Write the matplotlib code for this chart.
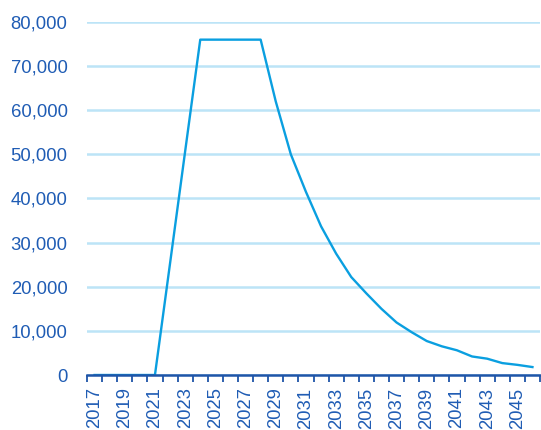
import numpy as np
import matplotlib
matplotlib.use('Agg')
from matplotlib import pyplot as plt

years = list(range(2017, 2047))
values = [0, 0, 0, 0, 0, 25300, 50700, 76000, 76000, 76000, 76000, 76000,
          62000, 50000, 41500, 33700, 27500, 22200, 18500, 15000, 11900,
          9700, 7700, 6500, 5600, 4200, 3700, 2700, 2300, 1800]
yticks = [0, 10000, 20000, 30000, 40000, 50000, 60000, 70000, 80000]

line_col = '#0A9FE0'
text_col = '#1F5CB4'
grid_col = '#BCE4F7'
axis_col = '#1F55A8'

plt.rcParams['font.family'] = ['Liberation Sans', 'DejaVu Sans']

fig = plt.figure(figsize=(5.41, 4.30), dpi=100)
ax = fig.add_axes([87 / 541, 1 - 375 / 430, 453 / 541, 353 / 430])

x = np.arange(len(years))
ax.plot(x, values, color=line_col, lw=1.7, zorder=3)

ax.set_xlim(-0.5, len(years) - 0.5)
ax.set_ylim(0, 80000)

# category boundaries carry the tick marks, labels every other year
ax.set_xticks(np.arange(-0.5, len(years), 1.0))
ax.set_xticklabels([])
ax.set_xticks(x[::2], minor=True)
ax.set_xticklabels([str(y) for y in years[::2]], minor=True, rotation=90)
ax.tick_params(axis='x', which='major', length=5, width=1.3, color=axis_col, direction='out')
ax.tick_params(axis='x', which='minor', length=0, pad=9, labelsize=13.3, labelcolor=text_col)

ax.set_yticks(yticks)
ax.set_yticklabels([f'{v:,}' for v in yticks])
ax.tick_params(axis='y', length=0, pad=14, labelsize=13.3, labelcolor=text_col)
ax.grid(axis='y', color=grid_col, lw=1.8, zorder=0)
ax.set_axisbelow(True)

for s in ['left', 'right', 'top']:
    ax.spines[s].set_visible(False)
ax.spines['bottom'].set_color(axis_col)
ax.spines['bottom'].set_linewidth(1.8)
ax.spines['bottom'].set_zorder(4)

fig.savefig('out.png', dpi=100)
